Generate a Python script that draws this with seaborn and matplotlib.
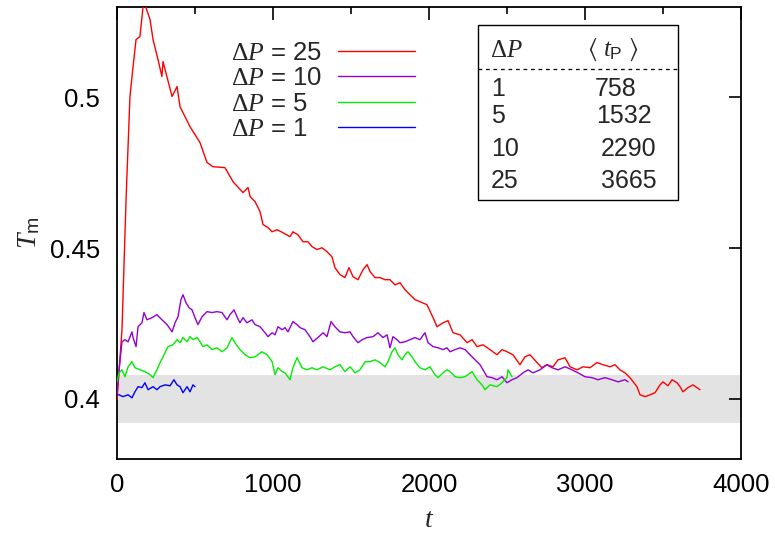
import numpy as np
import pandas as pd
import matplotlib
matplotlib.use("Agg")
import matplotlib.pyplot as plt
import seaborn as sns
from matplotlib.lines import Line2D
from matplotlib.patches import Rectangle

# ---------------- data ----------------
t_25 = [0, 32, 58, 83, 103, 122, 147, 167, 179, 212, 231, 263, 288, 295, 353, 385, 404,
        468, 532, 577, 615, 692, 744, 808, 840, 853, 885, 917, 936, 968, 994, 1026, 1064,
        1109, 1128, 1160, 1192, 1224, 1250, 1282, 1314, 1346, 1378, 1397, 1429, 1461,
        1487, 1513, 1545, 1577, 1603, 1622, 1654, 1686, 1718, 1750, 1782, 1814, 1846,
        1878, 1910, 1942, 1987, 2026, 2051, 2090, 2122, 2154, 2199, 2244, 2276, 2308,
        2346, 2391, 2436, 2468, 2500, 2538, 2583, 2615, 2647, 2692, 2724, 2756, 2795,
        2827, 2872, 2904, 2949, 2987, 3032, 3077, 3115, 3160, 3192, 3224, 3256, 3288,
        3333, 3353, 3385, 3417, 3449, 3481, 3500, 3532, 3558, 3590, 3609, 3628, 3660,
        3692, 3737]
T_25 = [0.3997, 0.4229, 0.4661, 0.5003, 0.5102, 0.5192, 0.5202, 0.5301, 0.5308, 0.5258,
        0.5192, 0.5125, 0.5069, 0.5119, 0.5003, 0.5036, 0.4969, 0.4903, 0.4850, 0.4784,
        0.4770, 0.4767, 0.4720, 0.4684, 0.4701, 0.4671, 0.4654, 0.4621, 0.4578, 0.4568,
        0.4554, 0.4561, 0.4551, 0.4538, 0.4554, 0.4544, 0.4521, 0.4521, 0.4505, 0.4495,
        0.4501, 0.4488, 0.4471, 0.4435, 0.4412, 0.4402, 0.4435, 0.4405, 0.4395, 0.4428,
        0.4445, 0.4422, 0.4402, 0.4402, 0.4395, 0.4395, 0.4378, 0.4385, 0.4362, 0.4345,
        0.4329, 0.4322, 0.4312, 0.4269, 0.4239, 0.4252, 0.4259, 0.4219, 0.4212, 0.4186,
        0.4196, 0.4173, 0.4179, 0.4163, 0.4146, 0.4163, 0.4156, 0.4146, 0.4113, 0.4139,
        0.4146, 0.4120, 0.4103, 0.4113, 0.4106, 0.4129, 0.4136, 0.4106, 0.4096, 0.4106,
        0.4103, 0.4120, 0.4113, 0.4106, 0.4113, 0.4096, 0.4086, 0.4070, 0.4040, 0.4013,
        0.4007, 0.4013, 0.4020, 0.4046, 0.4056, 0.4043, 0.4063, 0.4053, 0.4040, 0.4023,
        0.4037, 0.4046, 0.4030]

t_10 = [0, 13, 32, 51, 71, 96, 103, 122, 135, 160, 173, 192, 224, 256, 288, 321, 353,
        372, 391, 410, 423, 442, 462, 481, 500, 519, 545, 577, 609, 641, 673, 705, 724,
        750, 769, 788, 808, 833, 865, 885, 917, 949, 968, 994, 1013, 1032, 1058, 1077,
        1096, 1128, 1154, 1173, 1205, 1237, 1256, 1288, 1321, 1346, 1372, 1397, 1429,
        1461, 1494, 1513, 1545, 1571, 1603, 1641, 1673, 1705, 1731, 1750, 1769, 1795,
        1814, 1846, 1878, 1910, 1942, 1974, 1994, 2026, 2058, 2090, 2115, 2135, 2167,
        2199, 2231, 2263, 2295, 2327, 2372, 2404, 2436, 2468, 2500, 2532, 2564, 2603,
        2635, 2667, 2712, 2756, 2788, 2827, 2872, 2917, 2955, 3000, 3045, 3083, 3128,
        3173, 3212, 3256, 3276]
T_10 = [0.4013, 0.4096, 0.4189, 0.4196, 0.4189, 0.4222, 0.4203, 0.4173, 0.4239, 0.4252,
        0.4286, 0.4262, 0.4269, 0.4279, 0.4262, 0.4246, 0.4222, 0.4252, 0.4272, 0.4329,
        0.4345, 0.4319, 0.4302, 0.4295, 0.4269, 0.4246, 0.4272, 0.4289, 0.4286, 0.4289,
        0.4286, 0.4262, 0.4279, 0.4295, 0.4272, 0.4252, 0.4269, 0.4252, 0.4262, 0.4246,
        0.4239, 0.4219, 0.4206, 0.4219, 0.4212, 0.4239, 0.4229, 0.4236, 0.4222, 0.4256,
        0.4246, 0.4236, 0.4229, 0.4206, 0.4189, 0.4203, 0.4219, 0.4206, 0.4256, 0.4239,
        0.4222, 0.4219, 0.4222, 0.4206, 0.4186, 0.4196, 0.4203, 0.4206, 0.4219, 0.4203,
        0.4212, 0.4169, 0.4206, 0.4196, 0.4186, 0.4189, 0.4196, 0.4203, 0.4196, 0.4219,
        0.4186, 0.4173, 0.4169, 0.4163, 0.4169, 0.4156, 0.4163, 0.4169, 0.4163, 0.4146,
        0.4129, 0.4113, 0.4073, 0.4070, 0.4063, 0.4073, 0.4053, 0.4063, 0.4070, 0.4086,
        0.4096, 0.4086, 0.4096, 0.4113, 0.4103, 0.4096, 0.4106, 0.4096, 0.4086, 0.4073,
        0.4070, 0.4063, 0.4070, 0.4063, 0.4056, 0.4063, 0.4056]

t_5 = [0, 13, 32, 51, 71, 96, 115, 147, 179, 212, 231, 256, 276, 295, 327, 359, 385,
       404, 423, 449, 468, 487, 513, 532, 551, 577, 609, 641, 673, 705, 737, 756, 788,
       821, 853, 885, 929, 962, 994, 1013, 1032, 1058, 1077, 1109, 1128, 1154, 1186,
       1218, 1250, 1282, 1321, 1365, 1397, 1429, 1461, 1494, 1526, 1558, 1590, 1622,
       1654, 1686, 1718, 1737, 1763, 1782, 1801, 1827, 1846, 1865, 1891, 1910, 1942,
       1974, 2006, 2038, 2058, 2090, 2115, 2135, 2167, 2199, 2231, 2276, 2308, 2340,
       2359, 2391, 2436, 2468, 2500, 2506, 2532]
T_5 = [0.4056, 0.4086, 0.4096, 0.4073, 0.4106, 0.4123, 0.4103, 0.4096, 0.4090, 0.4080,
       0.4070, 0.4096, 0.4120, 0.4139, 0.4173, 0.4179, 0.4196, 0.4186, 0.4203, 0.4189,
       0.4206, 0.4196, 0.4203, 0.4189, 0.4173, 0.4179, 0.4163, 0.4169, 0.4156, 0.4169,
       0.4203, 0.4186, 0.4163, 0.4146, 0.4136, 0.4139, 0.4156, 0.4146, 0.4123, 0.4080,
       0.4103, 0.4090, 0.4086, 0.4063, 0.4103, 0.4136, 0.4103, 0.4096, 0.4103, 0.4096,
       0.4106, 0.4096, 0.4106, 0.4113, 0.4090, 0.4106, 0.4086, 0.4096, 0.4123, 0.4123,
       0.4129, 0.4120, 0.4106, 0.4123, 0.4156, 0.4169, 0.4146, 0.4129, 0.4146, 0.4156,
       0.4139, 0.4123, 0.4103, 0.4096, 0.4106, 0.4080, 0.4070, 0.4086, 0.4096, 0.4090,
       0.4073, 0.4070, 0.4073, 0.4090, 0.4063, 0.4046, 0.4030, 0.4046, 0.4040, 0.4053,
       0.4070, 0.4096, 0.4073]

t_1 = [0, 13, 38, 71, 96, 115, 135, 160, 179, 199, 231, 256, 276, 308, 340, 365, 385,
       404, 423, 449, 468, 487, 500]
T_1 = [0.4013, 0.4013, 0.4007, 0.4013, 0.4003, 0.4023, 0.4040, 0.4037, 0.4053, 0.4030,
       0.4040, 0.4030, 0.4040, 0.4046, 0.4043, 0.4063, 0.4046, 0.4040, 0.4020, 0.4040,
       0.4023, 0.4046, 0.4040]

dP_values = [25, 10, 5, 1]
series_t = [t_25, t_10, t_5, t_1]
series_T = [T_25, T_10, T_5, T_1]
colors = ["#ff0000", "#9400d3", "#00ee00", "#0000ff"]

band = (0.392, 0.408)

table_dP = ["1", "5", "10", "25"]
table_tP = ["758", "1532", "2290", "3665"]

# ---------------- style ----------------
sns.set_theme(style="white")
plt.rcParams["font.family"] = ["Liberation Sans", "DejaVu Sans"]
plt.rcParams["mathtext.fontset"] = "custom"
plt.rcParams["mathtext.rm"] = "Liberation Serif"
plt.rcParams["mathtext.it"] = "Liberation Serif:italic"
plt.rcParams["mathtext.sf"] = "Liberation Sans"
plt.rcParams["mathtext.fallback"] = "stix"
plt.rcParams["axes.edgecolor"] = "black"
plt.rcParams["axes.linewidth"] = 1.3

FS = 18.5
W, H = 775, 541
fig = plt.figure(figsize=(W / 100, H / 100), dpi=100)
ax = fig.add_axes([117 / W, 1 - 459 / H, (741 - 117) / W, (459 - 7) / H])

frames = []
for dp, tt, TT in zip(dP_values, series_t, series_T):
    frames.append(pd.DataFrame({"t": tt, "Tm": TT, "dP": dp}))
df = pd.concat(frames, ignore_index=True)

ax.axhspan(band[0], band[1], color="#e3e3e3", lw=0, zorder=0)

for dp, c in zip(dP_values, colors):
    sub = df[df["dP"] == dp]
    sns.lineplot(data=sub, x="t", y="Tm", color=c, lw=1.0, ax=ax,
                 estimator=None, sort=False, legend=False, zorder=3)

ax.set_xlim(0, 4000)
ax.set_ylim(0.38, 0.53)
ax.set_xticks([0, 1000, 2000, 3000, 4000])
ax.set_xticks([500, 1500, 2500, 3500], minor=True)
ax.set_yticks([0.4, 0.45, 0.5])
ax.set_yticklabels(["0.4", "0.45", "0.5"])
ax.tick_params(which="both", direction="in", top=True, right=True,
               labelsize=FS, colors="black", width=1.2)
ax.tick_params(which="major", length=9)
ax.tick_params(which="minor", length=5)
ax.tick_params(axis="y", pad=12)
ax.tick_params(axis="x", pad=10)

ax.set_xlabel(r"$t$", fontsize=20, labelpad=7)
ax.set_ylabel(r"$T_{\mathsf{m}}$", fontsize=20, labelpad=6)

# legend (text first, line after; text left-aligned like the reference)
handles = [Line2D([], [], color=c, lw=1.0) for c in colors]
labels = [r"$\Delta P$ = %d" % d for d in dP_values]
leg = ax.legend(handles, labels, loc="upper left", markerfirst=False, frameon=False,
                fontsize=FS, handlelength=3.0, handletextpad=0.6, labelspacing=0.05,
                borderpad=0, borderaxespad=0,
                bbox_to_anchor=(231 / W, 1 - 41 / H), bbox_transform=fig.transFigure)
renderer = fig.canvas.get_renderer()
widths = [t.get_window_extent(renderer).width for t in leg.texts]
wmax = max(widths)
column = leg._legend_handle_box.get_children()[0]
for item, w in zip(column.get_children(), widths):
    item.sep = item.sep + (wmax - w) * 72.0 / fig.dpi

# inset table
def fx(px):
    return px / W

def fy(py):
    return 1 - py / H

fig.patches.append(Rectangle((fx(478), fy(200)), fx(678) - fx(478), fy(25) - fy(200),
                             transform=fig.transFigure, fill=True, facecolor="white",
                             edgecolor="black", lw=1.0, zorder=5))
fig.lines.append(Line2D([fx(478), fx(678)], [fy(69), fy(69)], transform=fig.transFigure,
                        color="black", lw=0.9, ls=(0, (3, 3)), zorder=6))
TFS = 18
fig.text(fx(490), fy(50), r"$\Delta P$", fontsize=TFS, va="center", ha="left", zorder=7)
fig.text(fx(587), fy(50), r"$\langle\ t_{\mathsf{P}}\ \rangle$", fontsize=TFS,
         va="center", ha="left", zorder=7)
row_y = [89, 116, 149, 181]
num_x = [595, 596, 601, 601]
for yy, a, b, xx in zip(row_y, table_dP, table_tP, num_x):
    fig.text(fx(491), fy(yy), a, fontsize=TFS, va="center", ha="left", zorder=7)
    fig.text(fx(xx), fy(yy), b, fontsize=TFS, va="center", ha="left", zorder=7)

fig.savefig("out.png", dpi=100)
